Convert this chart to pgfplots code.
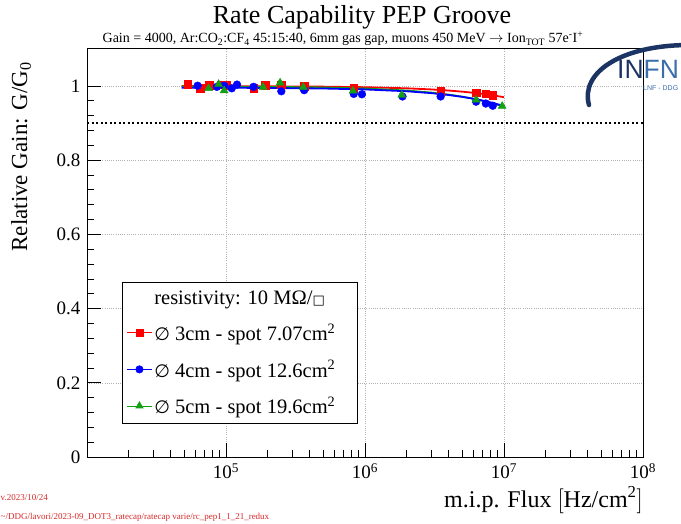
\documentclass[border=0pt]{standalone}
\usepackage{pgfplots}
\usepackage{pgfplotstable}
\pgfplotsset{compat=1.18}
\usepackage{fontspec}
\setmainfont{Liberation Serif}
\newfontfamily\djsans{DejaVu Sans}
\newfontfamily\lsans{Liberation Sans}
\definecolor{rgreen}{RGB}{20,160,20}
\definecolor{infnblue}{RGB}{28,52,100}
\definecolor{infnlight}{RGB}{60,110,170}
\definecolor{infored}{RGB}{215,40,40}

\pgfplotstableread{
x y
5.3e4 1.005
6.5e4 0.994
7.6e4 1.003
9.2e4 1.004
1.0e5 1.003
1.58e5 0.994
1.92e5 1.002
2.5e5 1.004
3.65e5 1.000
8.3e5 0.995
3.5e6 0.987
6.3e6 0.982
7.4e6 0.980
8.3e6 0.976
}\redpts
\pgfplotstableread{
x y
6.25e4 1.001
8.6e4 0.998
9.7e4 1.001
1.1e5 0.994
1.2e5 1.004
1.58e5 0.998
2.5e5 0.986
3.65e5 0.989
8.3e5 0.979
9.5e5 0.978
1.86e6 0.972
3.5e6 0.972
6.3e6 0.958
7.4e6 0.953
8.3e6 0.947
}\bluepts
\pgfplotstableread{
x y
7.5e4 0.994
8.85e4 1.005
9.7e4 0.988
1.85e5 0.997
2.45e5 1.009
3.6e5 0.997
8.2e5 0.987
1.84e6 0.976
6.3e6 0.963
9.7e6 0.946
}\greenpts
\pgfplotstableread{
x y
4.8e4 0.9999
1e5 0.9997
2e5 0.9994
5e5 0.9985
1e6 0.9970
2e6 0.9940
3e6 0.9910
4e6 0.9880
5e6 0.9850
6e6 0.9820
7e6 0.9790
8e6 0.9760
9e6 0.9730
1e7 0.9700
}\redfit
\pgfplotstableread{
x y
4.8e4 0.9958
1e5 0.9955
2e5 0.9950
5e5 0.9935
1e6 0.9910
2e6 0.9860
3e6 0.9810
4e6 0.9760
5e6 0.9710
6e6 0.9660
7e6 0.9610
8e6 0.9560
9e6 0.9510
1e7 0.9460
}\bluefit
\pgfplotstableread{
x y
4.8e4 0.9987
1e5 0.9985
2e5 0.9979
5e5 0.9963
1e6 0.9935
2e6 0.9880
3e6 0.9825
4e6 0.9770
5e6 0.9715
6e6 0.9660
7e6 0.9605
8e6 0.9550
9e6 0.9495
1e7 0.9440
}\greenfit

\begin{document}
\begin{tikzpicture}[x=1pt,y=1pt]
\useasboundingbox (0,0) rectangle (681,523);
\begin{axis}[
  at={(87pt,66pt)}, anchor=south west,
  scale only axis, width=556pt, height=408pt,
  xmode=log, xmin=1e4, xmax=1e8, ymin=0, ymax=1.1,
  axis line style={line width=1pt},
  tick pos=left, tick align=inside,
  major tick length=14pt, minor tick length=7pt,
  every tick/.style={black, line width=0.9pt},
  xtick={1e4,1e5,1e6,1e7,1e8},
  xticklabels={,10\textsuperscript{5},10\textsuperscript{6},10\textsuperscript{7},10\textsuperscript{8}},
  minor xtick={2e4,3e4,4e4,5e4,6e4,7e4,8e4,9e4,2e5,3e5,4e5,5e5,6e5,7e5,8e5,9e5,2e6,3e6,4e6,5e6,6e6,7e6,8e6,9e6,2e7,3e7,4e7,5e7,6e7,7e7,8e7,9e7},
  ytick={0,0.2,0.4,0.6,0.8,1},
  minor y tick num=4,
  /pgf/number format/assume math mode=true,
  ticklabel style={font=\fontsize{19}{19}\selectfont},
  yticklabel style={xshift=-3pt},
  xticklabel style={yshift=-3pt},
  grid=major,
  major grid style={gray!60, line width=0.5pt, dash pattern=on 0.7pt off 1.5pt},
  legend style={draw=black, line width=1pt, fill=white,
    at={(axis description cs:0.063,0.429)}, anchor=north west,
    font=\fontsize{20.5}{20.5}\selectfont, row sep=14pt,
    inner xsep=4pt, inner ysep=6pt},
  legend cell align=left,
  legend image code/.code={\draw[mark repeat=2,mark phase=2] plot coordinates {(0pt,0pt) (12.5pt,0pt) (25pt,0pt)};},
]
\addplot[black, line width=1.5pt, dash pattern=on 2pt off 2.5pt, forget plot] coordinates {(1e4,0.9) (1e8,0.9)};
% data points
\addplot[only marks, mark=square*, mark size=3.8pt, red, forget plot] table[x=x,y=y]{\redpts};
\addplot[only marks, mark=*, mark size=3.9pt, blue, forget plot] table[x=x,y=y]{\bluepts};
\addplot[only marks, mark=triangle*, mark size=4.6pt, rgreen, forget plot] table[x=x,y=y]{\greenpts};
% fits
\addplot[red, line width=1.8pt, forget plot] table[x=x,y=y]{\redfit};
\addplot[rgreen, line width=1.8pt, forget plot] table[x=x,y=y]{\greenfit};
\addplot[blue, line width=1.8pt, forget plot] table[x=x,y=y]{\bluefit};
% legend
\addlegendimage{empty legend}
\addlegendentry{resistivity: 10 MΩ/{\djsans\fontsize{13}{13}\selectfont □}}
\addlegendimage{red, line width=0.8pt, mark=square*, mark size=3.5pt}
\addlegendentry{{\djsans\fontsize{18}{18}\selectfont ∅} 3cm - spot 7.07cm\textsuperscript{2}}
\addlegendimage{blue, line width=0.8pt, mark=*, mark size=3.6pt}
\addlegendentry{{\djsans\fontsize{18}{18}\selectfont ∅} 4cm - spot 12.6cm\textsuperscript{2}}
\addlegendimage{rgreen, line width=0.8pt, mark=triangle*, mark size=4pt}
\addlegendentry{{\djsans\fontsize{18}{18}\selectfont ∅} 5cm - spot 19.6cm\textsuperscript{2}\hspace*{16pt}}
\end{axis}
% titles
\node[anchor=base, font=\fontsize{26}{26}\selectfont] at (362,499) {Rate Capability PEP Groove};
\node[anchor=base, font=\fontsize{14}{14}\selectfont] at (343,480) {Gain = 4000, Ar:CO\textsubscript{2}:CF\textsubscript{4} 45:15:40, 6mm gas gap, muons 450 MeV \(\rightarrow\) Ion\textsubscript{TOT} 57e\textsuperscript{-}I\textsuperscript{+}};
\node[rotate=90, anchor=east, font=\fontsize{23}{23}\selectfont, inner sep=0pt] at (21,461) {Relative Gain: G/G\textsubscript{0}};
\node[anchor=base east, font=\fontsize{24}{24}\selectfont, inner sep=0pt] at (643,16) {m.i.p. Flux \(\Bigl[\)Hz/cm\textsuperscript{2}\(\Bigr]\)};
% info text
\node[anchor=base west, text=infored, font=\fontsize{9}{9}\selectfont, inner sep=0pt] at (0.5,23) {v.2023/10/24};
\node[anchor=base west, text=infored, font=\fontsize{9}{9}\selectfont, inner sep=0pt] at (0.5,4) {\textasciitilde/DDG/lavori/2023-09\_DOT3\_ratecap/ratecap varie/rc\_pep1\_1\_21\_redux};
% INFN logo
\draw[infnblue, line width=4.5pt, line cap=round] (589,418) .. controls (580,450) and (620,478) .. (690,478);
\node[anchor=base west, font=\lsans\fontsize{26.5}{26.5}\selectfont, inner sep=0pt] at (617,444) {\textcolor{infnblue}{IN}\textcolor{infnlight}{FN}};
\node[anchor=base west, font=\lsans\fontsize{7}{7}\selectfont, text=infnlight, inner sep=0pt] at (643,432) {LNF - DDG};
\end{tikzpicture}
\end{document}
